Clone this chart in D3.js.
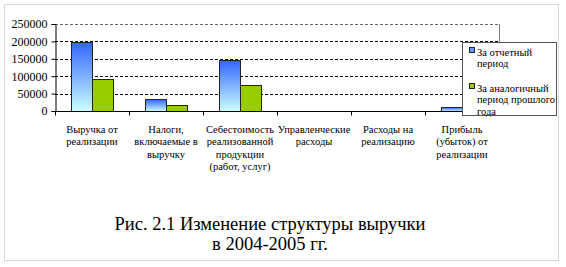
<!DOCTYPE html>
<html>
<head>
<meta charset="utf-8">
<script src="https://cdn.jsdelivr.net/npm/d3@7"></script>
<style>
  body { margin: 0; background: #fff; }
</style>
</head>
<body>
<svg id="chart" width="566" height="267"></svg>
<script>
const categories = [
  ["Выручка от", "реализации"],
  ["Налоги,", "включаемые в", "выручку"],
  ["Себестоимость", "реализованной", "продукции", "(работ, услуг)"],
  ["Управленческие", "расходы"],
  ["Расходы на", "реализацию"],
  ["Прибыль", "(убыток) от", "реализации"]
];
const currentPeriod = [198000, 35000, 146500, 0, 0, 10500];
const previousPeriod = [93000, 16500, 74000, 0, 0, 0];
const seriesNames = ["За отчетный период", "За аналогичный период прошлого года"];
const legendLines = [["За отчетный", "период"], ["За аналогичный", "период прошлого", "года"]];
const yTicks = [0, 50000, 100000, 150000, 200000, 250000];
const caption = ["Рис. 2.1 Изменение структуры выручки", "в 2004-2005 гг."];

const serif = "Liberation Serif";
const svg = d3.select("#chart");
const plot = { left: 55, right: 499, top: 24, bottom: 111 };

// outer frame
svg.append("rect")
  .attr("x", 4.5).attr("y", 4.5)
  .attr("width", 554).attr("height", 256)
  .attr("fill", "none").attr("stroke", "#d9d9d9");

const defs = svg.append("defs");
const grad = defs.append("linearGradient")
  .attr("id", "blueGrad").attr("x1", 0).attr("y1", 0).attr("x2", 0).attr("y2", 1);
grad.append("stop").attr("offset", "0%").attr("stop-color", "#3366ff");
grad.append("stop").attr("offset", "100%").attr("stop-color", "#ccffff");

const x = d3.scaleBand()
  .domain(d3.range(categories.length))
  .range([plot.left, plot.right])
  .paddingInner(0).paddingOuter(0);

const y = d3.scaleLinear().domain([0, 250000]).range([plot.bottom, plot.top]);

const barW = 21;
const groupOffset = (x.bandwidth() - 2 * barW) / 2;

// gridlines
svg.append("g")
  .selectAll("line")
  .data(yTicks.filter(t => t > 0))
  .join("line")
  .attr("x1", plot.left).attr("x2", plot.right)
  .attr("y1", d => Math.round(y(d)) + 0.5).attr("y2", d => Math.round(y(d)) + 0.5)
  .attr("stroke", d => d === 250000 ? "#666" : "#000")
  .attr("stroke-dasharray", "3,2");

// plot area right border
svg.append("line")
  .attr("x1", plot.right + 0.5).attr("x2", plot.right + 0.5)
  .attr("y1", plot.top).attr("y2", plot.bottom)
  .attr("stroke", "#808080");

// bars
const bars = svg.append("g");
categories.forEach((c, i) => {
  [currentPeriod[i], previousPeriod[i]].forEach((v, s) => {
    if (v <= 0) return;
    const x0 = x(i) + groupOffset + s * barW;
    bars.append("rect")
      .attr("x", x0 + 0.5)
      .attr("y", Math.round(y(v)) + 0.5)
      .attr("width", barW)
      .attr("height", Math.round(y(0)) - Math.round(y(v)))
      .attr("fill", s === 0 ? "url(#blueGrad)" : "#99cc00")
      .attr("stroke", "#222")
      .attr("stroke-width", 1);
  });
});

// y axis
const yAxis = svg.append("g")
  .attr("transform", `translate(${plot.left + 0.5},0)`)
  .call(d3.axisLeft(y).tickValues(yTicks).tickSize(4).tickFormat(d3.format("d")))
  .attr("font-family", serif);
yAxis.select(".domain").attr("stroke", "#000");
yAxis.selectAll(".tick text")
  .attr("font-family", serif)
  .attr("font-size", 12).attr("fill", "#000").attr("x", -8);

// x axis
const xAxis = svg.append("g")
  .attr("transform", `translate(0,${Math.round(y(0)) + 0.5})`);
xAxis.append("line")
  .attr("x1", plot.left).attr("x2", plot.right)
  .attr("stroke", "#000");
xAxis.selectAll("line.tick")
  .data(d3.range(categories.length + 1))
  .join("line")
  .attr("class", "tick")
  .attr("x1", d => Math.round(plot.left + d * x.step()) + 0.5)
  .attr("x2", d => Math.round(plot.left + d * x.step()) + 0.5)
  .attr("y1", 0).attr("y2", 4)
  .attr("stroke", "#000");

const labels = svg.append("g")
  .attr("font-family", serif)
  .attr("font-size", 10.5).attr("text-anchor", "middle").attr("fill", "#000");
categories.forEach((lines, i) => {
  const t = labels.append("text")
    .attr("x", x(i) + x.bandwidth() / 2)
    .attr("y", 133);
  lines.forEach((ln, k) => {
    t.append("tspan")
      .attr("x", x(i) + x.bandwidth() / 2)
      .attr("dy", k === 0 ? 0 : 12.3)
      .text(ln);
  });
});

// legend
const lg = svg.append("g").attr("transform", "translate(462,42)").attr("font-family", serif);
lg.append("rect")
  .attr("x", 0.5).attr("y", 0.5).attr("width", 94).attr("height", 73)
  .attr("fill", "#fff").attr("stroke", "#555").attr("stroke-width", 1);
const legendTop = [10, 46];
seriesNames.forEach((name, s) => {
  lg.append("rect")
    .attr("x", 7.5).attr("y", legendTop[s] - 4.5)
    .attr("width", 5).attr("height", 5)
    .attr("fill", s === 0 ? "#6699ff" : "#99cc00")
    .attr("stroke", "#222");
  const t = lg.append("text")
    .attr("font-size", 10.5).attr("fill", "#000")
    .attr("y", legendTop[s] + 3.5);
  legendLines[s].forEach((ln, k) => {
    t.append("tspan").attr("x", 15).attr("dy", k === 0 ? 0 : 11.5).text(ln);
  });
});

// caption
const cap = svg.append("g")
  .attr("font-family", serif)
  .attr("font-size", 18.5).attr("text-anchor", "middle").attr("fill", "#000");
caption.forEach((ln, k) => {
  cap.append("text").attr("x", 270).attr("y", k === 0 ? 230 : 250).text(ln);
});
</script>
</body>
</html>
